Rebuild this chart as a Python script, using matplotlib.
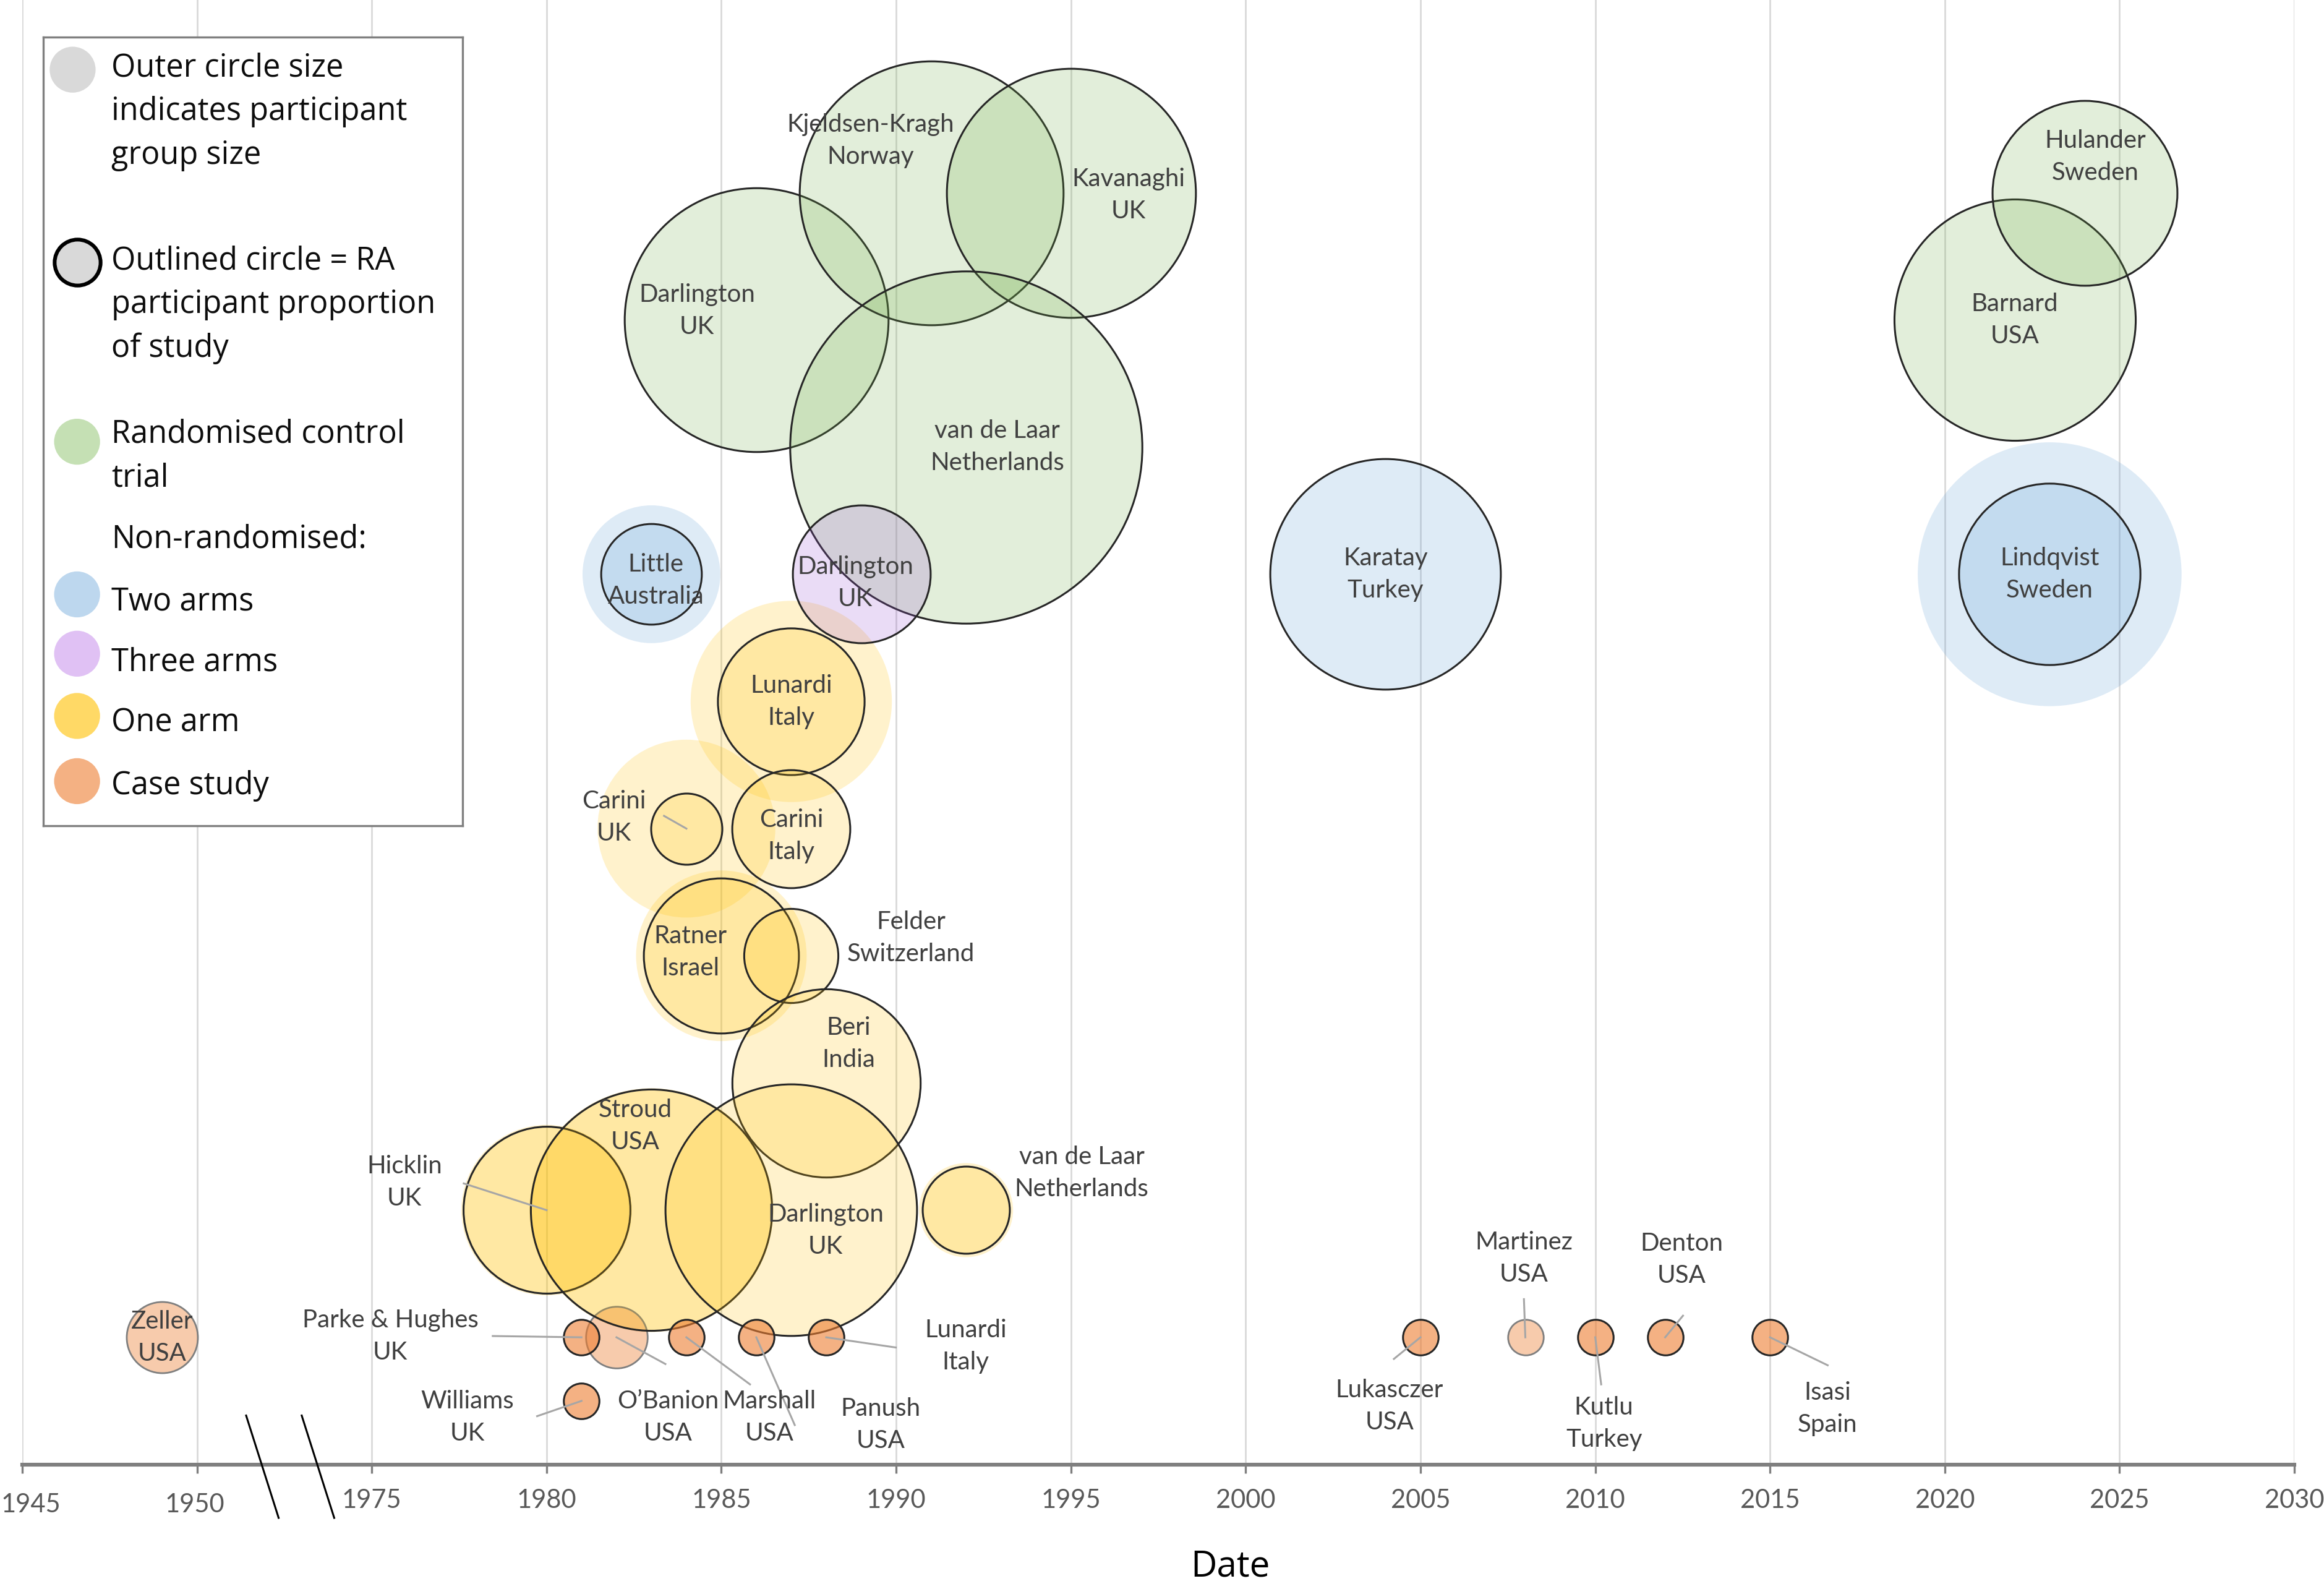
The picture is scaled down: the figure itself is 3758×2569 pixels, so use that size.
import numpy as np
import matplotlib
matplotlib.use('Agg')
import matplotlib.pyplot as plt
import matplotlib.transforms as mtransforms
from matplotlib.colors import to_rgba

# ---- data ----
names = ['Darlington', 'Kjeldsen-Kragh', 'Kavanaghi', 'van de Laar', 'Barnard', 'Hulander',
         'Little', 'Karatay', 'Lindqvist',
         'Darlington',
         'Lunardi', 'Carini', 'Carini', 'Ratner', 'Felder', 'Beri', 'Hicklin', 'Stroud',
         'Darlington', 'van de Laar',
         'Zeller', 'Parke & Hughes', 'O\u2019Banion', 'Marshall', 'Panush', 'Lunardi', 'Williams',
         'Lukasczer', 'Martinez', 'Kutlu', 'Denton', 'Isasi']
countries = ['UK', 'Norway', 'UK', 'Netherlands', 'USA', 'Sweden',
             'Australia', 'Turkey', 'Sweden',
             'UK',
             'Italy', 'UK', 'Italy', 'Israel', 'Switzerland', 'India', 'UK', 'USA', 'UK', 'Netherlands',
             'USA', 'UK', 'USA', 'USA', 'USA', 'Italy', 'UK', 'USA', 'USA', 'Turkey', 'USA', 'Spain']
years = [1986, 1991, 1995, 1992, 2022, 2024,
         1983, 2004, 2023,
         1989,
         1987, 1984, 1987, 1985, 1987, 1988, 1980, 1983, 1987, 1992,
         1949, 1981, 1982, 1984, 1986, 1988, 1981, 2005, 2008, 2010, 2012, 2015]
levels = [9, 10, 10, 8, 9, 10,
          7, 7, 7,
          7,
          6, 5, 5, 4, 4, 3, 2, 2, 2, 2,
          1, 1, 1, 1, 1, 1, 0.5, 1, 1, 1, 1, 1]
design = ['RCT'] * 6 + ['Two arms'] * 3 + ['Three arms'] + ['One arm'] * 10 + ['Case study'] * 12
participants = [55, 55, 49, 98, 46, 27,
                15, 42, 55,
                15,
                32, 25, 11, 23, 7, 28, 23, 47, 50, 7,
                4, 1, 3, 1, 1, 1, 1, 1, 1, 1, 1, 1]
ra_participants = [55, 55, 49, 98, 46, 27,
                   8, 42, 26,
                   15,
                   17, 4, 11, 19, 7, 28, 22, 46, 50, 6,
                   0, 1, 0, 1, 1, 1, 1, 1, 0, 1, 1, 1]

tick_years = [1945, 1950, 1975, 1980, 1985, 1990, 1995, 2000, 2005, 2010, 2015, 2020, 2025, 2030]

# ---- layout: label offsets (years, levels) and leader line ends ----
label_offsets = [(-1.7, 0.07), (-1.74, 0.41), (1.65, -0.02), (0.89, 0), (0, 0), (0.3, 0.28),
                 (0.13, -0.05), (0, 0), (0, 0),
                 (-0.17, -0.07),
                 (0, 0), (-2.08, 0.09), (0, -0.06), (-0.89, 0.03), (3.43, 0.14), (0.64, 0.31),
                 (-4.07, 0.22), (-0.47, 0.66), (0.98, -0.16), (3.31, 0.29),
                 (0, 0), (-5.47, 0.01), (1.48, -0.63), (2.37, -0.63), (3.56, -0.69), (3.99, -0.07),
                 (-3.27, -0.13), (-0.89, -0.54), (-0.04, 0.62), (0.25, -0.68), (0.47, 0.61), (1.65, -0.56)]
leaders = {11: (-0.64, 0.10), 16: (-2.37, 0.21), 21: (-2.54, 0.01), 22: (1.40, -0.21),
           23: (1.82, -0.37), 24: (1.10, -0.69), 25: (1.99, -0.08), 26: (-1.27, -0.12),
           27: (-0.76, -0.17), 28: (-0.04, 0.30), 29: (0.17, -0.37), 30: (0.51, 0.17),
           31: (1.65, -0.22)}

styles = {
    'RCT': dict(color='#70ad47', a_out=0.2, a_in=0.2, rim=None),
    'Two arms': dict(color='#5b9bd5', a_out=0.2, a_in=0.2, rim=None),
    'Three arms': dict(color='#9650d2', a_out=0.2, a_in=0.2, rim=None),
    'One arm': dict(color='#ffc000', a_out=0.2, a_in=0.2, rim=None),
    'Case study': dict(color='#ed7d31', a_out=0.4, a_in=0.6, rim='#7f7f7f'),
}

W, H, DPI = 3758, 2569, 200
PT2_PER_PERSON = (2 * 12 * (W / 1568) * 72 / DPI) ** 2
LABEL_FONT = 'Lato'
LEGEND_FONT = 'Open Sans'


def year_to_pos(yr):
    yr = np.asarray(yr, dtype=float)
    return np.where(yr < 1962.5, (yr - 1945) / 5, 2 + (yr - 1975) / 5)


def main():
    fig = plt.figure(figsize=(W / DPI, H / DPI), dpi=DPI)
    ax = fig.add_axes([15 / 1568, 84 / 1072, 1533 / 1568, 988 / 1072])
    ax.set_xlim(0, 13)
    ax.set_ylim(0, 988 / 85.8)

    xs = year_to_pos(years)
    for i in range(len(names)):
        st = styles[design[i]]
        x, y = xs[i], levels[i]
        n, ra = participants[i], ra_participants[i]
        if ra < n:
            rim = st['rim'] if st['rim'] else 'none'
            ax.scatter([x], [y], s=n * PT2_PER_PERSON, facecolor=to_rgba(st['color'], st['a_out']),
                       edgecolor=rim, linewidth=1.0, zorder=2)
        if ra > 0:
            ax.scatter([x], [y], s=ra * PT2_PER_PERSON, facecolor=to_rgba(st['color'], st['a_in']),
                       edgecolor='#262626', linewidth=1.1, zorder=3)

    for i in range(len(names)):
        x, y = xs[i], levels[i]
        dx, dy = label_offsets[i]
        if i in leaders:
            lx, ly = leaders[i]
            ax.plot([x, x + lx / 5], [y, y + ly], color='#a6a6a6', lw=1.1, zorder=4)
        ax.text(x + dx / 5, y + dy, names[i] + '\n' + countries[i], ha='center', va='center',
                fontsize=14.5, family=LABEL_FONT, color='#404040', linespacing=1.5, zorder=5)

    # axis styling
    ax.set_xticks(np.arange(len(tick_years)))
    ax.set_xticklabels([str(t) for t in tick_years], family=LABEL_FONT, fontsize=15, color='#595959')
    ax.set_yticks([])
    ax.grid(axis='x', color='#d9d9d9', lw=1.0)
    ax.set_axisbelow(True)
    for side in ['top', 'left', 'right']:
        ax.spines[side].set_visible(False)
    ax.spines['bottom'].set_color('#7f7f7f')
    ax.spines['bottom'].set_linewidth(2.2)
    ax.tick_params(axis='x', direction='out', length=5, width=1.2, color='#7f7f7f', pad=9)
    # the two pre-break labels sit a little lower, 1945 nudged inside the figure
    lbls = ax.get_xticklabels()
    lbls[0].set_transform(lbls[0].get_transform() + mtransforms.ScaledTranslation(0.07, -0.035, fig.dpi_scale_trans))
    lbls[1].set_transform(lbls[1].get_transform() + mtransforms.ScaledTranslation(-0.02, -0.035, fig.dpi_scale_trans))

    # break marks between 1950 and 1975
    for cx in (1.374, 1.692):
        ax.plot([cx - 0.093, cx + 0.093], [0.385, -0.42], color='black', lw=1.1,
                clip_on=False, zorder=6)

    fig.text(830 / 1568, 1 - 1057 / 1072, 'Date', ha='center', va='center',
             family=LEGEND_FONT, fontsize=21, color='black')

    # legend box
    lax = fig.add_axes([29 / 1568, 1 - 557 / 1072, 283 / 1568, 532 / 1072])
    lax.set_xlim(29, 312)
    lax.set_ylim(557, 25)
    lax.set_xticks([])
    lax.set_yticks([])
    for sp in lax.spines.values():
        sp.set_color('#7f7f7f')
        sp.set_linewidth(1.2)
    msize = (31 * (W / 1568) * 72 / DPI) ** 2
    legend_items = [
        (49, 47, '#d9d9d9', 'none', 'Outer circle size\nindicates participant\ngroup size', 46),
        (52, 177, '#d9d9d9', 'black', 'Outlined circle = RA\nparticipant proportion\nof study', 176),
        (52, 298, '#c5e0b4', 'none', 'Randomised control\ntrial', 293),
        (None, None, None, None, 'Non-randomised:', 364),
        (52, 401, '#bdd7ee', 'none', 'Two arms', 406),
        (52, 441, '#e0c1f4', 'none', 'Three arms', 447),
        (52, 483, '#ffd966', 'none', 'One arm', 488),
        (52, 527, '#f4b183', 'none', 'Case study', 530),
    ]
    for mx, my, fc, ec, label, ty in legend_items:
        if mx is not None:
            lax.scatter([mx], [my], s=msize, facecolor=fc, edgecolor=ec,
                        linewidth=2.2 if ec != 'none' else 0, zorder=3)
        for k, line in enumerate(label.split('\n')):
            lax.text(75, ty + k * 29.5, line, ha='left', va='center', family=LEGEND_FONT,
                     fontsize=18.2, color='#0d0d0d')

    fig.savefig('out.png', dpi=DPI, facecolor='white')


if __name__ == '__main__':
    main()
